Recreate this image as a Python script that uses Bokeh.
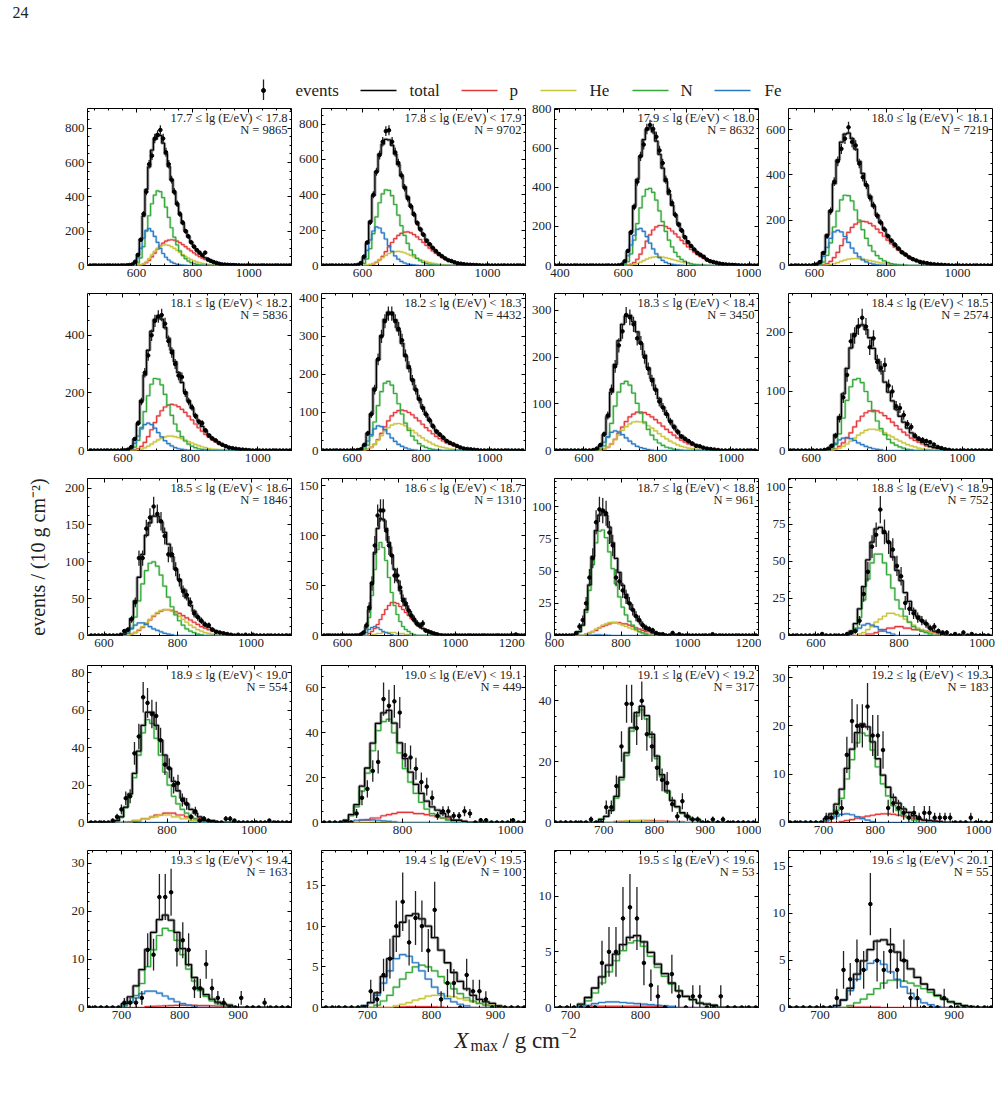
import math
import numpy as np
from bokeh.plotting import figure
from bokeh.layouts import column, row
from bokeh.models import Range1d, LinearAxis, FixedTicker, Label
from bokeh.core.properties import value
from bokeh.embed import file_html
from bokeh.resources import INLINE

FONT = "Liberation Serif"

# ---------------- data ----------------
E_BINS = ["17.7", "17.8", "17.9", "18.0", "18.1", "18.2", "18.3", "18.4", "18.5", "18.6",
          "18.7", "18.8", "18.9", "19.0", "19.1", "19.2", "19.3", "19.4", "19.5", "19.6", "20.1"]
N_EVENTS = [9865, 9702, 8632, 7219, 5836, 4432, 3450, 2574, 1846, 1310,
            961, 752, 554, 449, 317, 183, 163, 100, 53, 55]

X_LO = [425, 469, 383, 527, 495, 510, 520, 540, 555, 526, 600, 534, 617, 650, 603, 632, 642, 628, 677, 653]
X_HI = [1153, 1122, 1028, 1098, 1100, 1105, 1075, 1080, 1110, 1249, 1213, 1025, 1086, 1028, 1005, 1027, 991, 947, 969, 957]
Y_HI = [915, 888, 805, 693, 545, 413, 336, 266, 213, 157, 122, 106, 84, 70, 51.6, 32.5, 32.7, 19.3, 14.1, 16.7]
Y_STEP = [200, 200, 200, 200, 200, 100, 100, 100, 50, 50, 25, 25, 20, 20, 20, 10, 10, 5, 5, 5]
X_STEP = [200] * 14 + [100] * 6

FE_START = [570, 580, 590, 600, 610, 620, 630, 640, 650, 670, 700, 680, 700, 700, 720, 700, 700, 690, 710, 720]
FE_VALS = [
    [1, 4, 15, 45, 100, 160, 205, 215, 200, 170, 135, 100, 70, 48, 32, 20, 12, 7, 4, 2, 1],
    [2, 10, 35, 85, 145, 195, 218, 212, 185, 150, 112, 80, 54, 36, 23, 14, 8, 5, 3, 1],
    [3, 15, 50, 105, 155, 185, 190, 175, 148, 115, 85, 60, 40, 26, 16, 10, 6, 3, 2, 1],
    [3, 12, 40, 80, 120, 148, 155, 148, 128, 102, 77, 55, 38, 25, 16, 10, 6, 3, 2, 1],
    [2, 8, 25, 50, 75, 90, 95, 90, 78, 62, 47, 34, 24, 16, 10, 6, 4, 2, 1],
    [3, 10, 25, 42, 57, 65, 63, 55, 44, 33, 24, 16, 11, 7, 4, 2, 1],
    [3, 8, 18, 30, 39, 42, 40, 34, 27, 20, 14, 9, 6, 4, 2, 1],
    [2, 6, 12, 18, 21, 22, 20, 17, 13, 10, 7, 5, 3, 2, 1],
    [2, 5, 9, 14, 17, 17, 15, 12, 9, 7, 5, 3, 2, 1],
    [1, 3, 6, 8, 9, 8, 6, 4, 3, 2, 1],
    [0.3, 0.4, 0.5, 0.5, 0.4, 0.3, 0.2],
    [1, 3, 5, 7, 8, 7, 6, 4, 3, 2, 1],
    [0.2, 0.3, 0.3, 0.2],
    [0.5, 1, 1.2, 1.3, 1.2, 1, 0.7, 0.5, 0.3],
    [0.1, 0.1],
    [0.3, 0.8, 1.3, 1.7, 1.8, 1.6, 1.2, 0.8, 0.5, 0.2],
    [0.5, 1.2, 2, 2.9, 3.4, 3.4, 3, 2.4, 1.8, 1.2, 0.8, 0.5, 0.3],
    [0.2, 0.6, 1.5, 3, 4.5, 6, 6.5, 6.3, 5.5, 4.5, 3.5, 2.5, 1.7, 1.1, 0.7, 0.4, 0.2],
    [0.1, 0.2, 0.35, 0.45, 0.5, 0.5, 0.45, 0.4, 0.35, 0.3, 0.25, 0.2, 0.15, 0.1],
    [0.2, 0.8, 1.8, 3, 4, 4.7, 5, 4.6, 3.8, 3, 2.2, 1.5, 0.9, 0.5, 0.3, 0.1],
]

N_START = [580, 590, 600, 610, 620, 630, 640, 650, 660, 670, 660, 680, 680, 690, 690, 700, 700, 710, 710, 740]
N_VALS = [
    [1, 4, 15, 45, 110, 200, 290, 360, 410, 435, 430, 395, 340, 280, 220, 165, 120, 85, 58, 40, 26, 17, 11, 7, 4, 2, 1],
    [3, 12, 38, 95, 180, 275, 355, 405, 428, 425, 395, 345, 285, 225, 170, 125, 88, 60, 40, 27, 17, 11, 7, 4, 2, 1],
    [5, 20, 60, 130, 215, 295, 355, 390, 395, 375, 335, 280, 225, 175, 130, 95, 67, 46, 31, 21, 14, 9, 5, 3, 2, 1],
    [4, 15, 45, 100, 170, 240, 290, 310, 308, 285, 245, 200, 158, 120, 88, 63, 44, 30, 20, 13, 8, 5, 3, 2, 1],
    [3, 12, 35, 80, 135, 190, 230, 250, 248, 228, 195, 158, 122, 92, 67, 48, 33, 22, 15, 10, 6, 4, 2, 1],
    [4, 14, 38, 75, 118, 155, 177, 182, 172, 150, 123, 96, 72, 53, 38, 27, 18, 12, 8, 5, 3, 2, 1],
    [3, 10, 28, 58, 95, 125, 143, 148, 140, 123, 101, 80, 61, 45, 33, 23, 16, 11, 7, 5, 3, 2, 1],
    [3, 10, 28, 55, 85, 108, 120, 122, 115, 100, 83, 66, 50, 37, 27, 19, 13, 9, 6, 4, 2, 1],
    [3, 10, 25, 47, 70, 88, 98, 100, 94, 82, 67, 52, 39, 28, 20, 14, 9, 6, 4, 2, 1],
    [2, 6, 18, 40, 66, 86, 93, 88, 75, 58, 43, 30, 21, 14, 9, 6, 4, 2, 1],
    [1, 3, 8, 18, 35, 55, 72, 81, 82, 76, 65, 52, 40, 30, 22, 16, 11, 8, 5, 3, 2, 1],
    [2, 5, 12, 24, 38, 49, 55, 55, 49, 41, 32, 24, 18, 13, 9, 6, 4, 3, 2, 1],
    [1, 3, 8, 15, 24, 36, 48, 55, 53, 45, 36, 27, 20, 14, 10, 7, 5, 3, 2, 1],
    [1, 3, 7, 14, 22, 32, 41, 45, 46, 40, 31, 24, 18, 13, 9, 6, 4, 3, 2, 1],
    [1, 2, 4, 8, 14, 22, 30, 35, 37, 34, 28, 21, 15, 10, 7, 5, 3, 2, 1, 1],
    [0.5, 1, 2.5, 5, 9, 13, 16.5, 18.5, 18, 15, 11.5, 8, 5.5, 3.5, 2.5, 1.5, 1, 0.5],
    [0.3, 1, 2.5, 5, 8.5, 12, 15, 16.5, 16, 14, 11, 8, 5.5, 3.5, 2.3, 1.4, 0.8, 0.5, 0.3],
    [0.3, 0.8, 1.5, 2.5, 3.5, 4.3, 5, 5.2, 5, 4.5, 3.8, 3, 2.3, 1.7, 1.2, 0.8, 0.5, 0.3, 0.2],
    [0.2, 0.6, 1.3, 2.2, 3.2, 4.2, 5.1, 5.8, 6, 5.5, 4.6, 3.6, 2.8, 2.1, 1.5, 1, 0.7, 0.4, 0.3, 0.2],
    [0.2, 0.5, 0.9, 1.4, 2, 2.6, 2.9, 2.9, 2.8, 2.6, 2.3, 2, 1.6, 1.2, 0.9, 0.6, 0.4, 0.2, 0.1],
]

HE_START = [600, 610, 620, 630, 640, 640, 650, 660, 670, 700, 690, 700, 720, 740, 720, 700, 700, 740, 700, 740]
HE_VALS = [
    [1, 4, 10, 22, 40, 62, 83, 100, 112, 118, 120, 117, 110, 100, 88, 76, 64, 53, 43, 34, 27, 21, 16, 12, 9, 6, 4, 3, 2, 1],
    [2, 5, 11, 20, 32, 45, 57, 68, 75, 79, 80, 77, 72, 65, 57, 49, 41, 34, 27, 21, 16, 12, 9, 7, 5, 3, 2, 1],
    [2, 5, 10, 17, 25, 33, 39, 43, 45, 45, 43, 40, 36, 31, 27, 22, 18, 14, 11, 8, 6, 4, 3, 2, 1],
    [2, 4, 8, 13, 19, 24, 28, 30, 31, 30, 28, 25, 22, 18, 15, 12, 9, 7, 5, 4, 3, 2, 1],
    [2, 5, 9, 15, 22, 30, 37, 43, 47, 50, 50, 48, 45, 41, 36, 31, 26, 21, 17, 13, 10, 7, 5, 4, 3, 2, 1],
    [3, 8, 16, 27, 39, 51, 60, 67, 70, 71, 69, 65, 59, 53, 46, 39, 33, 27, 22, 17, 13, 10, 8, 6, 4, 3, 2, 1],
    [3, 7, 14, 23, 33, 43, 51, 57, 61, 62, 61, 58, 53, 48, 42, 36, 30, 25, 20, 16, 12, 9, 7, 5, 4, 3, 2, 1],
    [2, 4, 7, 11, 16, 21, 26, 30, 34, 36, 36, 35, 33, 30, 26, 23, 19, 16, 13, 10, 8, 6, 4, 3, 2, 1],
    [2, 4, 8, 12, 17, 22, 27, 31, 34, 35, 35, 33, 30, 26, 22, 18, 14, 11, 8, 6, 4, 3, 2, 1],
    [1, 1, 2, 2, 3, 3, 3, 3, 3, 2, 2, 2, 1, 1],
    [1, 2, 3, 5, 6, 8, 9, 10, 10, 10, 9, 8, 7, 6, 5, 4, 3, 2, 1, 1],
    [1, 2, 4, 6, 9, 11, 13, 15, 15, 14, 13, 11, 9, 7, 5, 4, 3, 2, 1, 1],
    [1, 1, 2, 2, 3, 3, 4, 4, 4, 3, 3, 2, 2, 1, 1],
    [0.2, 0.2, 0.2],
    [0.3, 0.4, 0.5, 0.6, 0.6, 0.6, 0.5, 0.4, 0.3, 0.2],
    [0],
    [0],
    [0.2, 0.4, 0.6, 0.9, 1.1, 1.4, 1.5, 1.5, 1.4, 1.3, 1.1, 0.9, 0.7, 0.5, 0.4, 0.3, 0.2],
    [0],
    [0],
]

P_START = [600, 620, 610, 620, 630, 640, 650, 660, 670, 690, 690, 720, 720, 720, 720, 730, 740, 740, 720, 740]
P_VALS = [
    [1, 3, 8, 16, 30, 50, 72, 95, 115, 130, 142, 148, 150, 148, 142, 133, 122, 110, 97, 85, 73, 62, 52, 43, 35, 28, 22, 17, 13, 10, 7, 5, 4, 3, 2, 1],
    [4, 9, 18, 32, 52, 78, 105, 130, 152, 170, 182, 189, 190, 185, 175, 162, 147, 131, 114, 98, 83, 69, 57, 46, 37, 29, 23, 18, 13, 10, 7, 5, 4, 3, 2, 1],
    [2, 6, 15, 32, 58, 90, 125, 157, 182, 198, 205, 205, 200, 190, 177, 162, 146, 129, 112, 96, 82, 68, 56, 46, 37, 29, 23, 18, 14, 10, 8, 6, 4, 3, 2, 1],
    [3, 8, 18, 35, 58, 88, 118, 146, 168, 183, 192, 195, 193, 186, 175, 161, 145, 129, 112, 96, 81, 67, 55, 45, 36, 28, 22, 17, 13, 10, 7, 5, 4, 3, 2, 1],
    [2, 6, 14, 28, 48, 72, 97, 120, 138, 151, 158, 160, 158, 152, 143, 132, 119, 106, 92, 79, 67, 56, 46, 37, 30, 23, 18, 14, 10, 8, 6, 4, 3, 2, 1],
    [3, 8, 16, 29, 45, 62, 78, 91, 100, 105, 106, 104, 100, 94, 86, 78, 69, 60, 52, 44, 37, 31, 25, 20, 16, 13, 10, 7, 5, 4, 3, 2, 1],
    [3, 7, 14, 24, 37, 50, 62, 72, 78, 82, 82, 81, 77, 72, 66, 59, 52, 45, 39, 33, 27, 22, 18, 14, 11, 9, 7, 5, 4, 3, 2, 1],
    [3, 7, 13, 21, 30, 40, 50, 58, 64, 67, 68, 67, 64, 59, 54, 48, 42, 36, 31, 26, 21, 17, 14, 11, 8, 6, 5, 4, 3, 2, 1],
    [2, 4, 7, 11, 16, 21, 26, 30, 33, 35, 35, 34, 32, 30, 27, 24, 21, 18, 15, 12, 10, 8, 6, 5, 4, 3, 2, 1],
    [2, 4, 7, 11, 16, 21, 26, 30, 33, 33, 32, 29, 26, 23, 20, 17, 14, 11, 9, 7, 5, 4, 3, 2, 2, 1],
    [1, 2, 3, 4, 6, 7, 8, 9, 10, 10, 10, 9, 9, 8, 7, 6, 5, 4, 3, 3, 2, 2, 1, 1],
    [1, 1, 2, 3, 4, 5, 5, 6, 6, 5, 5, 4, 4, 3, 3, 2, 2, 1, 1],
    [1, 1, 2, 2, 3, 4, 4, 5, 5, 5, 4, 4, 3, 3, 2, 2, 1, 1, 1],
    [1, 1, 2, 2, 3, 3.5, 4, 4.5, 4.5, 4.5, 4, 4, 3.5, 3, 2.5, 2, 1.5, 1, 1, 0.5],
    [0.2, 0.3, 0.4, 0.5, 0.5, 0.6, 0.6, 0.6, 0.5, 0.5, 0.4, 0.3, 0.2, 0.2],
    [0.2, 0.4, 0.6, 0.9, 1.1, 1.3, 1.5, 1.7, 1.8, 1.8, 1.7, 1.5, 1.3, 1.1, 0.9, 0.7, 0.5, 0.4, 0.3, 0.2],
    [0.2, 0.25, 0.3, 0.35, 0.4, 0.45, 0.45, 0.45, 0.45, 0.4, 0.4, 0.35, 0.3, 0.25, 0.2],
    [0.05, 0.08, 0.1, 0.1, 0.1, 0.1, 0.08, 0.05],
    [0.1, 0.1, 0.1, 0.1, 0.1, 0.1, 0.1, 0.1, 0.1, 0.1, 0.1, 0.1],
    [0.05, 0.05, 0.05, 0.05, 0.05],
]

EV_START = [560, 570, 580, 590, 600, 610, 620, 630, 640, 660, 660, 670, 670, 710, 670, 700, 700, 700, 740, 720]
EV_VALS = [
    [1, 3, 6, 22, 62, 150, 300, 430, 590, 640, 740, 760, 790, 740, 660, 590, 500, 430, 360, 300, 250, 200, 170, 135, 110, 90, 75, 60, 75, 35, 27, 20, 15, 10, 6, 5, 4, 3, 2, 1, 1],
    [1, 3, 14, 50, 130, 245, 400, 530, 625, 700, 760, 765, 700, 640, 580, 510, 440, 380, 335, 290, 240, 205, 175, 140, 120, 100, 82, 65, 52, 40, 30, 25, 18, 12, 10, 7, 5, 4, 3, 2, 1],
    [1, 4, 22, 75, 170, 300, 430, 560, 620, 700, 720, 700, 660, 590, 525, 440, 380, 320, 260, 210, 180, 145, 120, 100, 82, 65, 55, 45, 30, 22, 18, 14, 10, 7, 5, 4, 3, 2, 1],
    [1, 4, 15, 55, 130, 240, 370, 460, 515, 560, 610, 545, 530, 450, 390, 355, 300, 265, 220, 190, 160, 130, 110, 92, 75, 58, 48, 36, 28, 22, 16, 13, 10, 7, 5, 4, 3, 2, 1],
    [1, 3, 12, 40, 95, 170, 270, 330, 400, 450, 465, 470, 440, 380, 340, 300, 260, 255, 200, 170, 150, 120, 100, 95, 70, 52, 42, 35, 26, 20, 15, 10, 8, 6, 4, 3, 2, 1],
    [1, 3, 15, 45, 95, 160, 240, 300, 340, 360, 360, 340, 320, 290, 250, 220, 185, 160, 135, 112, 95, 80, 64, 50, 42, 34, 25, 20, 16, 12, 8, 5, 4, 3, 2, 1],
    [1, 4, 12, 35, 75, 130, 180, 225, 255, 290, 285, 270, 240, 230, 200, 175, 150, 130, 105, 92, 78, 62, 50, 40, 30, 25, 20, 15, 10, 9, 6, 4, 3, 2, 1],
    [1, 3, 8, 25, 55, 90, 128, 185, 195, 210, 225, 210, 175, 190, 150, 140, 145, 110, 100, 75, 72, 60, 45, 40, 25, 20, 18, 16, 14, 10, 6, 4, 2, 1],
    [1, 6, 8, 22, 45, 105, 105, 145, 160, 175, 165, 155, 135, 110, 110, 90, 75, 60, 55, 45, 30, 25, 20, 15, 14, 8, 5, 4, 3, 2, 1, 0, 1, 0, 1, 0, 1],
    [1, 3, 10, 28, 52, 90, 120, 125, 125, 105, 90, 80, 60, 60, 48, 35, 32, 25, 20, 16, 12, 10, 12, 5, 4, 3, 2, 1],
    [2, 7, 12, 25, 45, 60, 88, 98, 97, 95, 80, 70, 45, 42, 35, 30, 25, 20, 15, 12, 8, 6, 5, 4, 2, 1, 1],
    [1, 2, 3, 10, 28, 43, 60, 68, 85, 70, 63, 58, 47, 40, 22, 18, 15, 12, 10, 8, 5, 6, 3, 2, 2],
    [1, 3, 7, 13, 14, 37, 46, 67, 64, 58, 57, 44, 31, 29, 20, 21, 12, 10, 3, 6, 1, 2, 1],
    [4, 11, 15, 23, 27, 55, 52, 54, 49, 30, 29, 24, 18, 16, 11, 3, 5, 5, 3, 3, 5, 4],
    [1, 0, 0, 5, 5, 12, 25, 39, 39, 31, 40, 29, 25, 18, 14, 13, 6, 2, 7, 2, 1, 1],
    [1, 1, 2, 3, 14, 21, 20, 20, 24, 18, 18, 15, 3, 4, 3, 2, 1, 2, 1, 2, 2, 1, 1, 1, 1],
    [1, 1, 1, 2, 12, 11, 23, 23, 24, 12, 14, 12, 4, 4, 9, 4, 2, 1],
    [2, 1, 4, 6, 10, 13, 8, 11, 10, 7, 12, 1, 3, 3, 0, 4, 2, 2, 1],
    [4, 5, 5, 8, 9, 8, 4, 2, 1, 0, 3, 1, 0, 1, 1],
    [1, 4, 3, 5, 4, 11, 5, 4, 6, 4, 5, 1, 1],
]
# isolated events far from the bulk (bin left edge, count)
EV_TAIL_X = [[], [], [], [], [], [], [], [], [], [1210], [950, 970, 1070], [610, 930, 950, 970],
             [930, 940, 950, 1030], [940, 950, 1000], [910, 930], [980], [900, 940], [], [910], [880]]
EV_TAIL_N = [[], [], [], [], [], [], [], [], [], [1], [2, 1, 1], [1, 1, 2, 1],
             [2, 2, 1, 1], [1, 1, 1], [1, 1], [1], [2, 1], [], [1], [1]]

COMPONENTS = [("p", P_START, P_VALS, "#e3393c"),
              ("He", HE_START, HE_VALS, "#c8c43c"),
              ("N", N_START, N_VALS, "#35a83a"),
              ("Fe", FE_START, FE_VALS, "#2b7bc4")]
BIN = 10

# ---------------- helpers ----------------
def step_xy(start, vals, xlo, xhi):
    vals = list(vals)
    edges = [start + BIN * k for k in range(len(vals) + 1)]
    return [xlo] + edges + [xhi], [0] + vals + [0, 0]


def ticks(lo, hi, step):
    t0 = math.ceil(lo / step) * step
    return [float(v) for v in np.arange(t0, hi + 1e-9, step)]


def style_axis(ax, tk, minor, show_labels=True):
    ax.ticker = FixedTicker(ticks=tk, minor_ticks=minor)
    ax.major_tick_in = 4
    ax.major_tick_out = 0
    ax.minor_tick_in = 2
    ax.minor_tick_out = 0
    ax.axis_line_color = None
    ax.major_tick_line_color = "black"
    ax.minor_tick_line_color = "black"
    if show_labels:
        ax.major_label_text_font = FONT
        ax.major_label_text_font_size = "13px"
        ax.major_label_text_color = "#222222"
        ax.major_label_standoff = 3
    else:
        # tick marks only: labels are not painted at all
        ax.major_label_text_color = None
        ax.major_label_text_font_size = "1px"
        ax.major_label_standoff = 0


COL_L = [87, 27, 26, 27]
COL_R = [3, 3, 3, 12]


def make_panel(i):
    r, c = divmod(i, 4)
    xlo, xhi, yhi = X_LO[i], X_HI[i], Y_HI[i]
    bottom = 22 if r == 2 else 20
    p = figure(frame_width=204, frame_height=157,
               x_range=Range1d(xlo, xhi), y_range=Range1d(0, yhi),
               toolbar_location=None, output_backend="svg",
               min_border_left=COL_L[c], min_border_right=COL_R[c],
               min_border_top=8, min_border_bottom=bottom,
               x_axis_type=None, y_axis_type=None)
    p.outline_line_color = "black"
    p.outline_line_width = 1
    p.grid.visible = False
    p.background_fill_color = "white"
    p.border_fill_color = "white"

    xs = X_STEP[i]
    ys = Y_STEP[i]
    xt = ticks(xlo, xhi, xs)
    yt = ticks(0, yhi, ys)
    ymin_div = 5 if ys in (25, 10, 5) else 4
    xm = ticks(xlo, xhi, xs / 4)
    ym = ticks(0, yhi, ys / ymin_div)

    ax_b = LinearAxis(); style_axis(ax_b, xt, xm); p.add_layout(ax_b, "below")
    ax_l = LinearAxis(); style_axis(ax_l, yt, ym); p.add_layout(ax_l, "left")
    ax_t = LinearAxis(); style_axis(ax_t, xt, xm, False); p.add_layout(ax_t, "above")
    ax_r = LinearAxis(); style_axis(ax_r, yt, ym, False); p.add_layout(ax_r, "right")

    if i == 8:
        ax_l.axis_label = "events / (10 g cm\u207b\u00b2)"
        ax_l.axis_label_text_font = FONT
        ax_l.axis_label_text_font_size = "20px"
        ax_l.axis_label_text_font_style = "normal"
        ax_l.axis_label_text_color = "#222222"
        ax_l.axis_label_standoff = 13

    # total = sum of the four components on a common bin grid
    lo = min(s[i] for _, s, _, _ in COMPONENTS)
    hi = max(s[i] + BIN * len(v[i]) for _, s, v, _ in COMPONENTS)
    nb = (hi - lo) // BIN
    tot = np.zeros(nb)
    for _, s, v, _ in COMPONENTS:
        k0 = (s[i] - lo) // BIN
        tot[k0:k0 + len(v[i])] += np.array(v[i], dtype=float)

    tx, ty = step_xy(lo, tot, xlo, xhi)
    p.step(tx, ty, mode="after", line_color="#8c8c8c", line_width=3.2, line_alpha=0.75)

    for name, s, v, col in COMPONENTS:
        if max(v[i]) <= 0:
            continue
        cx, cy = step_xy(s[i], v[i], xlo, xhi)
        p.step(cx, cy, mode="after", line_color=col, line_width=2.6, line_alpha=0.3)
        p.step(cx, cy, mode="after", line_color=col, line_width=1.2)

    p.step(tx, ty, mode="after", line_color="black", line_width=1.3)

    # events in every bin across the axis range (zeros where empty)
    e0 = int(math.floor(xlo / BIN) * BIN)
    counts = {e: 0 for e in range(e0, int(xhi), BIN)}
    for k, n in enumerate(EV_VALS[i]):
        counts[EV_START[i] + BIN * k] = n
    for e, n in zip(EV_TAIL_X[i], EV_TAIL_N[i]):
        counts[e] = n
    keys = [e for e in sorted(counts) if xlo < e + BIN / 2 < xhi]
    ex = [e + BIN / 2 for e in keys]
    ey = [counts[e] for e in keys]
    bx = [x for x, n in zip(ex, ey) if n > 0]
    bn = [n for n in ey if n > 0]
    p.segment(x0=bx, y0=[n - math.sqrt(n) for n in bn], x1=bx, y1=[n + math.sqrt(n) for n in bn],
              line_color="#222222", line_width=1.3)
    p.scatter(ex, ey, size=3.6, color="black", line_color="black")

    lab1 = "%s \u2264 lg (E/eV) < %s" % (E_BINS[i], E_BINS[i + 1])
    lab2 = "N = %d" % N_EVENTS[i]
    for txt, off in ((lab1, -2), (lab2, -14)):
        p.add_layout(Label(x=xhi, y=yhi, x_offset=-4, y_offset=off, text=txt,
                           text_align="right", text_baseline="top",
                           text_font=FONT, text_font_size="12.5px", text_color="#222222"))
    return p


# ---------------- header (page number + legend) ----------------
hdr = figure(width=1003, height=100, x_range=Range1d(0, 1003), y_range=Range1d(100, 0),
             toolbar_location=None, output_backend="svg", x_axis_type=None, y_axis_type=None,
             min_border=0)
hdr.outline_line_color = None
hdr.grid.visible = False
hdr.text(x=[12], y=[12], text=["24"], text_font=value(FONT), text_font_size="16px",
         text_baseline="middle", text_color="#222222")
LEG_NAMES = ["total"] + [c[0] for c in COMPONENTS]
LEG_COLORS = ["black"] + [c[3] for c in COMPONENTS]
LEG_LINE_X0 = [360, 461, 540, 632, 714]
LEG_TEXT_X = [409, 509, 589, 680, 764]
hdr.segment(x0=[263], y0=[79], x1=[263], y1=[101], line_color="#222222", line_width=1.3)
hdr.scatter([263], [90], size=4, color="black")
hdr.text(x=[295], y=[90], text=["events"], text_font=value(FONT), text_font_size="17px",
         text_baseline="middle", text_color="#222222")
for x0, tx, nm, col in zip(LEG_LINE_X0, LEG_TEXT_X, LEG_NAMES, LEG_COLORS):
    hdr.line([x0, x0 + 36], [90, 90], line_color=col, line_width=1.4)
    hdr.text(x=[tx], y=[90], text=[nm], text_font=value(FONT), text_font_size="17px",
             text_baseline="middle", text_color="#222222")

# ---------------- footer (x-axis label) ----------------
ftr = figure(width=1003, height=70, x_range=Range1d(0, 1003), y_range=Range1d(70, 0),
             toolbar_location=None, output_backend="svg", x_axis_type=None, y_axis_type=None,
             min_border=0)
ftr.outline_line_color = None
ftr.grid.visible = False
ftr.text(x=[454], y=[13], text=["X"], text_font=value(FONT), text_font_size="23px",
         text_font_style="italic", text_baseline="middle", text_color="#222222")
ftr.text(x=[470], y=[18], text=["max"], text_font=value(FONT), text_font_size="16px",
         text_baseline="middle", text_color="#222222")
ftr.text(x=[502], y=[13], text=["/ g cm"], text_font=value(FONT), text_font_size="23px",
         text_baseline="middle", text_color="#222222")
ftr.text(x=[561], y=[5], text=["\u22122"], text_font=value(FONT), text_font_size="14px",
         text_baseline="middle", text_color="#222222")

panels = [make_panel(i) for i in range(20)]
rows = [row(*panels[4 * r:4 * r + 4], spacing=0) for r in range(5)]
layout = column(hdr, *rows, ftr, spacing=0)

open("out.html", "w").write(file_html(layout, INLINE))
